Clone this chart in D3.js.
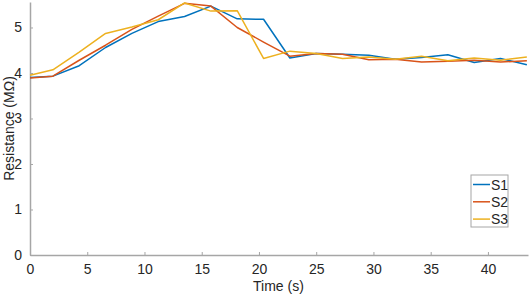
<!DOCTYPE html>
<html>
<head>
<meta charset="utf-8">
<script src="https://cdn.jsdelivr.net/npm/d3@7"></script>
<style>
  body { margin: 0; background: #fff; }
  text { font-family: "Liberation Sans", Arial, sans-serif; }
</style>
</head>
<body>
<svg id="drawing_region"></svg>
<script>
const times = [0, 2.0, 4.3, 6.6, 8.9, 11.2, 13.5, 15.8, 18.1, 20.4, 22.7, 25.0, 27.3, 29.6, 31.9, 34.2, 36.5, 38.8, 41.1, 43.4];
const s1 = [3.90, 3.93, 4.16, 4.56, 4.87, 5.13, 5.24, 5.47, 5.19, 5.18, 4.33, 4.43, 4.41, 4.39, 4.30, 4.34, 4.40, 4.23, 4.32, 4.18];
const s2 = [3.89, 3.93, 4.28, 4.61, 4.96, 5.25, 5.53, 5.47, 5.00, 4.68, 4.37, 4.43, 4.41, 4.29, 4.30, 4.24, 4.26, 4.28, 4.24, 4.27];
const s3 = [3.95, 4.07, 4.46, 4.87, 5.01, 5.17, 5.54, 5.36, 5.37, 4.32, 4.48, 4.43, 4.32, 4.35, 4.30, 4.37, 4.27, 4.33, 4.28, 4.35];
const seriesNames = ['S1', 'S2', 'S3'];
const colors = ['#0072BD', '#D95319', '#EDB120'];
const xTicks = [0, 5, 10, 15, 20, 25, 30, 35, 40];
const yTicks = [0, 1, 2, 3, 4, 5];

const width = 529, height = 297;
const margin = {top: 2, right: 1, bottom: 42, left: 30};
const innerW = width - margin.left - margin.right;
const innerH = height - margin.top - margin.bottom;

const svg = d3.select('#drawing_region')
    .attr('width', width)
    .attr('height', height);

const chart = svg.append('g')
    .attr('transform', `translate(${margin.left}, ${margin.top})`);

const xscale = d3.scaleLinear().domain([0, 43.5]).range([0, innerW]);
const yscale = d3.scaleLinear().domain([0, 5.56]).range([innerH, 0]);

const axisColor = '#a6a6a6';
const labelColor = '#262626';

// x axis (ticks point inward)
const xaxis_group = chart.append('g')
    .attr('transform', `translate(0, ${innerH})`)
    .call(d3.axisBottom(xscale).tickValues(xTicks).tickFormat(d3.format('d'))
        .tickSize(-3).tickPadding(9).tickSizeOuter(0));

// y axis
const yaxis_group = chart.append('g')
    .call(d3.axisLeft(yscale).tickValues(yTicks).tickFormat(d3.format('d'))
        .tickSize(-3).tickPadding(8).tickSizeOuter(0));

[xaxis_group, yaxis_group].forEach(g => {
    g.select('.domain').attr('stroke', axisColor).attr('stroke-width', 1.5);
    g.selectAll('.tick line').attr('stroke', axisColor);
    g.selectAll('.tick text')
        .attr('fill', labelColor)
        .style('font-size', '14px')
        .style('font-family', '"Liberation Sans", Arial, sans-serif');
});

const line = d3.line()
    .x((d, i) => xscale(times[i]))
    .y(d => yscale(d));

[s1, s2, s3].forEach((s, k) => {
    chart.append('path')
        .attr('d', line(s))
        .attr('fill', 'none')
        .attr('stroke', colors[k])
        .attr('stroke-width', 1.5)
        .attr('stroke-linejoin', 'round');
});

// axis labels
svg.append('text')
    .attr('x', margin.left + xscale(21.7))
    .attr('y', 291)
    .attr('text-anchor', 'middle')
    .attr('fill', labelColor)
    .style('font-size', '14px')
    .text('Time (s)');

svg.append('text')
    .attr('transform', `translate(14, ${margin.top + yscale(2.78)}) rotate(-90)`)
    .attr('text-anchor', 'middle')
    .attr('fill', labelColor)
    .style('font-size', '14px')
    .text('Resistance (MΩ)');

// legend
const legend = svg.append('g').attr('transform', 'translate(471, 175)');
legend.append('rect')
    .attr('width', 37).attr('height', 52)
    .attr('fill', '#fff')
    .attr('stroke', '#a6a6a6');
seriesNames.forEach((name, k) => {
    const y = 9.5 + k * 17.3;
    legend.append('line')
        .attr('x1', 2).attr('x2', 19)
        .attr('y1', y).attr('y2', y)
        .attr('stroke', colors[k]).attr('stroke-width', 1.5);
    legend.append('text')
        .attr('x', 20).attr('y', y + 5)
        .attr('fill', labelColor)
        .style('font-size', '14px')
        .text(name);
});
</script>
</body>
</html>
